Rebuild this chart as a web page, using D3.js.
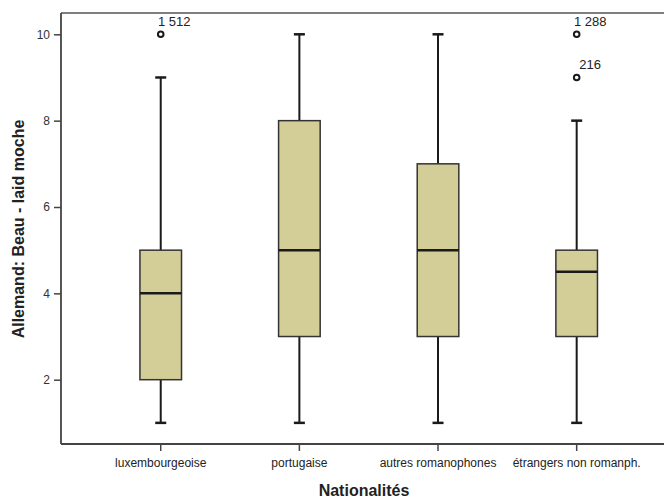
<!DOCTYPE html>
<html>
<head>
<meta charset="utf-8">
<script src="https://cdn.jsdelivr.net/npm/d3@7"></script>
<style>
  html, body { margin: 0; padding: 0; background: #fff; }
  svg { display: block; font-family: Arial, "Liberation Sans", sans-serif; }
</style>
</head>
<body>
<svg id="chart" width="664" height="498"></svg>
<script>
const categories = ["luxembourgeoise", "portugaise", "autres romanophones", "étrangers non romanph."];
const whiskerLow = [1, 1, 1, 1];
const q1 = [2, 3, 3, 3];
const median = [4, 5, 5, 4.5];
const q3 = [5, 8, 7, 5];
const whiskerHigh = [9, 10, 10, 8];
const outliers = [
  { cat: "luxembourgeoise", value: 10, label: "1 512" },
  { cat: "étrangers non romanph.", value: 10, label: "1 288" },
  { cat: "étrangers non romanph.", value: 9, label: "216" }
];
const yTicks = [2, 4, 6, 8, 10];
const xTitle = "Nationalités";
const yTitle = "Allemand: Beau - laid moche";

const svg = d3.select("#chart");
const axisLeftX = 61, axisBottomY = 444, topY = 13;

const y = d3.scaleLinear().domain([2, 10]).range([379.7, 34.3]);
const x = d3.scaleBand().domain(categories).range([91.4, 646]).paddingInner(0.7).paddingOuter(0.35);

const fill = "#d3cd98";
const dark = "#1a1a1a";

// frame lines
svg.append("line").attr("x1", axisLeftX).attr("x2", 664).attr("y1", topY).attr("y2", topY)
  .attr("stroke", "#555").attr("stroke-width", 1.6);

// axes
const yAxis = svg.append("g").attr("transform", `translate(${axisLeftX},0)`)
  .call(d3.axisLeft(y).tickValues(yTicks).tickSize(7).tickPadding(4).tickFormat(d3.format("d")));
yAxis.select(".domain").remove();
svg.append("line").attr("x1", axisLeftX).attr("x2", axisLeftX).attr("y1", topY).attr("y2", axisBottomY)
  .attr("stroke", "#444").attr("stroke-width", 1.8);

const xAxis = svg.append("g").attr("transform", `translate(0,${axisBottomY})`)
  .call(d3.axisBottom(x).tickSize(7).tickPadding(7));
xAxis.select(".domain").remove();
svg.append("line").attr("x1", axisLeftX).attr("x2", 664).attr("y1", axisBottomY).attr("y2", axisBottomY)
  .attr("stroke", "#444").attr("stroke-width", 1.8);

svg.selectAll(".tick line").attr("stroke", "#444").attr("stroke-width", 1.5);
yAxis.selectAll(".tick text").attr("font-size", 12).attr("fill", "#333").attr("font-family", "Arial, 'Liberation Sans', sans-serif");
xAxis.selectAll(".tick text").attr("font-size", 12).attr("fill", "#222").attr("font-family", "Arial, 'Liberation Sans', sans-serif");

// boxes
const data = categories.map((c, i) => ({ c, lo: whiskerLow[i], q1: q1[i], med: median[i], q3: q3[i], hi: whiskerHigh[i] }));
const bw = x.bandwidth();
const capW = 11;
const g = svg.append("g");
data.forEach(d => {
  const cx = x(d.c) + bw / 2;
  g.append("line").attr("x1", cx).attr("x2", cx).attr("y1", y(d.hi)).attr("y2", y(d.q3)).attr("stroke", dark).attr("stroke-width", 2);
  g.append("line").attr("x1", cx).attr("x2", cx).attr("y1", y(d.q1)).attr("y2", y(d.lo)).attr("stroke", dark).attr("stroke-width", 2);
  g.append("line").attr("x1", cx - capW / 2).attr("x2", cx + capW / 2).attr("y1", y(d.hi)).attr("y2", y(d.hi)).attr("stroke", dark).attr("stroke-width", 2.5);
  g.append("line").attr("x1", cx - capW / 2).attr("x2", cx + capW / 2).attr("y1", y(d.lo)).attr("y2", y(d.lo)).attr("stroke", dark).attr("stroke-width", 2.5);
  g.append("rect").attr("x", x(d.c)).attr("y", y(d.q3)).attr("width", bw).attr("height", y(d.q1) - y(d.q3))
    .attr("fill", fill).attr("stroke", "#333").attr("stroke-width", 1.5);
  g.append("line").attr("x1", x(d.c)).attr("x2", x(d.c) + bw).attr("y1", y(d.med)).attr("y2", y(d.med)).attr("stroke", dark).attr("stroke-width", 2.5);
});

// outliers
outliers.forEach(o => {
  const cx = x(o.cat) + bw / 2;
  g.append("circle").attr("cx", cx).attr("cy", y(o.value)).attr("r", 2.8)
    .attr("fill", "none").attr("stroke", dark).attr("stroke-width", 2);
  g.append("text").attr("x", cx + 13.5).attr("y", y(o.value) - 8).attr("text-anchor", "middle")
    .attr("font-size", 13).attr("fill", "#222").text(o.label);
});

// titles
svg.append("text").attr("x", 364).attr("y", 496).attr("text-anchor", "middle")
  .attr("font-size", 16).attr("font-weight", "bold").attr("fill", "#222").text(xTitle);
svg.append("text").attr("transform", "translate(24,229) rotate(-90)").attr("text-anchor", "middle")
  .attr("font-size", 16).attr("font-weight", "bold").attr("fill", "#222").text(yTitle);
</script>
</body>
</html>
